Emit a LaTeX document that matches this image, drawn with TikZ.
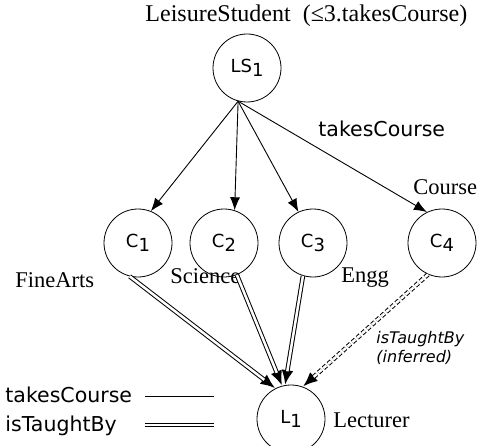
\documentclass[tikz,border=0pt]{standalone}
\usepackage{fontspec}
\setmainfont{Liberation Serif}
\setsansfont{DejaVu Sans}
\usetikzlibrary{arrows.meta,positioning,calc}

\newcommand{\csub}[1]{\raisebox{-0.45ex}{#1}}

\begin{document}
\begin{tikzpicture}[x=1pt, y=-1pt, >={Latex[length=13pt,width=10pt]}, ->,
  line width=0.9pt,
  concept/.style={circle, draw, line width=0.8pt, minimum size=68pt, inner sep=0pt,
    font=\sffamily\fontsize{18}{18}\selectfont},
  classname/.style={anchor=base west, inner sep=0pt, font=\fontsize{22.5}{22.5}\selectfont},
  rolename/.style={anchor=base west, inner sep=0pt, font=\sffamily\fontsize{20.5}{20.5}\selectfont},
  taught/.style={line width=4.5pt, -{Latex[length=15pt,width=12pt]}},
  taughtcore/.style={draw=white, line width=2.5pt, -},
  inferred/.style={dash pattern=on 4pt off 2.5pt},
  taughtline/.style={double, double distance=2.5pt, line width=1pt}]
\useasboundingbox (0,0) rectangle (481,446);
\node (LS1) [concept] at (247,68) {LS\csub{1}};
\node (C1) [concept] at (138,243) {C\csub{1}};
\node (C2) [concept, right of=C1, node distance=86pt] {C\csub{2}};
\node (C3) [concept, right of=C2, node distance=89pt] {C\csub{3}};
\node (C4) [concept, right of=C3, node distance=129pt] {C\csub{4}};
\node (L1) [concept] at (291,419) {L\csub{1}};
% class names
\node (title) [classname, font=\fontsize{24}{24}\selectfont] at (145,22) {LeisureStudent\ \ (≤3.takesCourse)};
\node (fa) [classname] at (15,287) {FineArts};
\node (sc) [classname] at (170,283) {Science};
\node (en) [classname] at (341,282) {Engg};
\node (co) [classname] at (413,195) {Course};
\node (le) [classname] at (333,427) {Lecturer};
% roles
\node (tc) [rolename] at (318,137) {takesCourse};
\node (inf) [anchor=west, align=left, inner sep=0pt,
  font=\sffamily\itshape\fontsize{16}{19}\selectfont] at (376,348) {isTaughtBy\\(inferred)};
\path (LS1.255) edge (C1.68)
                edge (C2.72)
                edge (C3.115)
                edge (C4.116);
% double lines: black first, white cores after
\path (C1.-104) edge[taught] (L1.117);
\path (C2.-68) edge[taught] (L1.105);
\path (C3.-107) edge[taught] (L1.100);
\path (C4.-114) edge[taught, inferred] (L1.70);
\path (C1.-104) edge[taughtcore] ($(L1.117)!14pt!(C1.-104)$);
\path (C2.-68) edge[taughtcore] ($(L1.105)!14pt!(C2.-68)$);
\path (C3.-107) edge[taughtcore] ($(L1.100)!14pt!(C3.-107)$);
\path (C4.-114) edge[taughtcore, inferred] ($(L1.70)!14pt!(C4.-114)$);
% legend
\node (lgtc) [rolename] at (5,402) {takesCourse};
\node (lgtb) [rolename] at (5,431) {isTaughtBy};
\coordinate (tcA) at (145,396);
\coordinate (tcB) at (214,396);
\coordinate (tbA) at (145,425);
\coordinate (tbB) at (214,425);
\path (tcA) edge[-] (tcB);
\path (tbA) edge[-, taughtline] (tbB);
\end{tikzpicture}
\end{document}
